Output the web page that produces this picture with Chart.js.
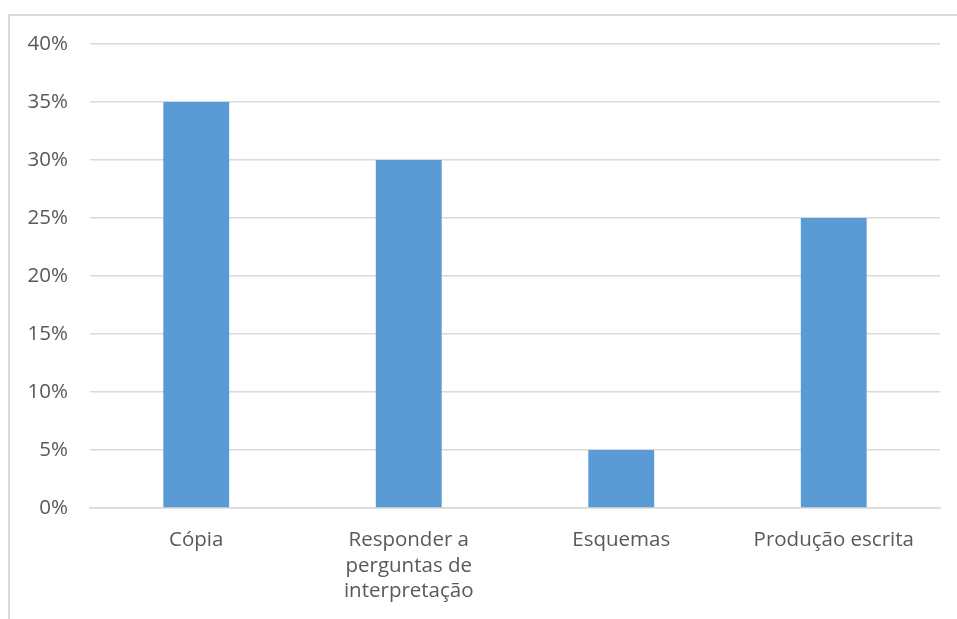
<!DOCTYPE html>
<html>
<head>
<meta charset="utf-8">
<script src="https://cdn.jsdelivr.net/npm/chart.js@4"></script>
<style>
  html, body { margin: 0; padding: 0; background: #fff; overflow: hidden; }
  #wrap { position: relative; width: 957px; height: 619px; }
  #frame { position: absolute; left: 8px; top: 14px; width: 1000px; height: 700px; border: 2px solid #d9d9d9; box-sizing: border-box; }
  canvas { position: absolute; left: 0; top: 0; }
</style>
</head>
<body>
<div id="wrap">
  <div id="frame"></div>
  <canvas id="barChart" width="957" height="619"></canvas>
</div>
<script>
// categorias e valores (%)
const categorias = ['Cópia', ['Responder a', 'perguntas de', 'interpretação'], 'Esquemas', 'Produção escrita'];
const valores = [35, 30, 5, 25];
const ticksY = [0, 5, 10, 15, 20, 25, 30, 35, 40];

const fonte = "'Open Sans', sans-serif";
const ctx = document.getElementById('barChart').getContext('2d');
new Chart(ctx, {
    type: 'bar',
    data: {
        labels: categorias,
        datasets: [{
            data: valores,
            backgroundColor: '#5b9bd5',
            barPercentage: 0.62,
            categoryPercentage: 0.5
        }]
    },
    options: {
        responsive: false,
        animation: false,
        layout: { padding: { top: 44, right: 17, left: 0, bottom: 0 } },
        plugins: {
            legend: { display: false },
            tooltip: { enabled: false }
        },
        scales: {
            x: {
                grid: { display: false },
                border: { color: '#d9d9d9', width: 1.5 },
                ticks: { color: '#595959', font: { family: fonte, size: 20.5, lineHeight: 1.23 }, padding: 12, maxRotation: 0 },
                afterFit: s => { s.height = 111; }
            },
            y: {
                min: 0,
                max: 40,
                afterBuildTicks: s => { s.ticks = ticksY.map(v => ({ value: v })); },
                grid: { color: '#d9d9d9', lineWidth: 1.5, drawTicks: false },
                border: { display: false },
                ticks: { color: '#595959', font: { family: fonte, size: 20.5 }, padding: 22, callback: v => v + '%' },
                afterFit: s => { s.width = 90; }
            }
        }
    }
});
</script>
</body>
</html>
